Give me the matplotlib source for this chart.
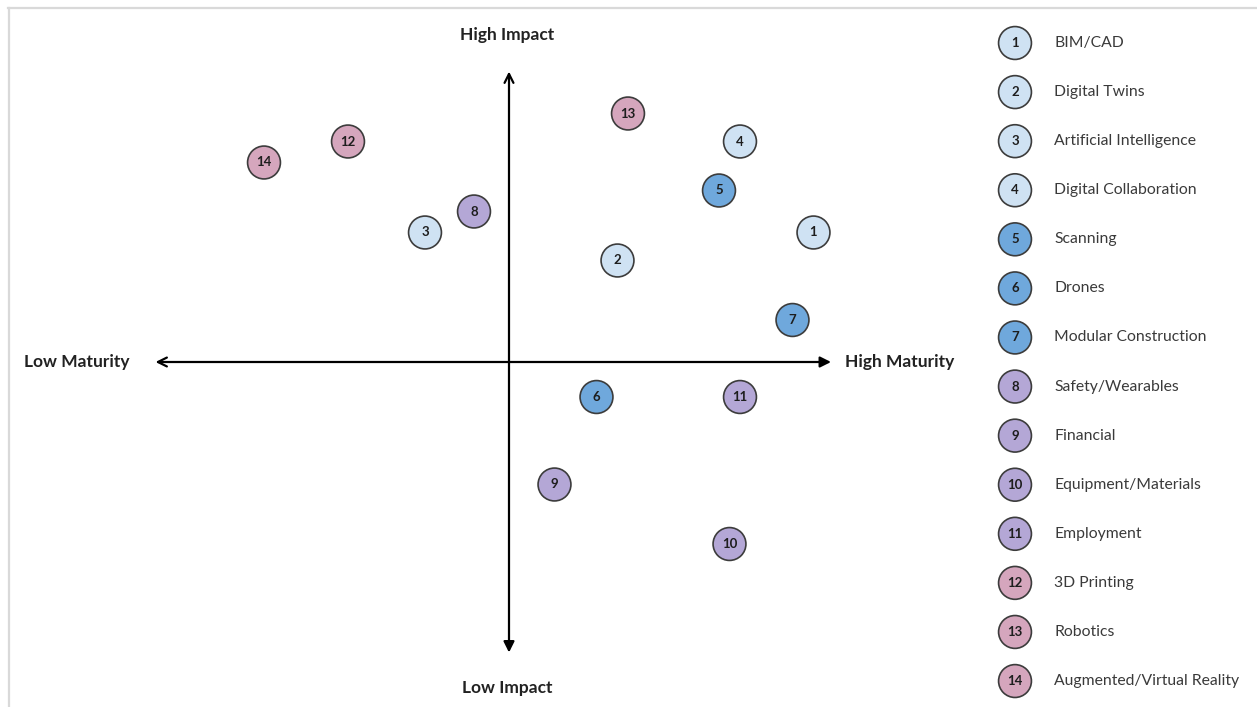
import matplotlib.pyplot as plt
from matplotlib.lines import Line2D

plt.rcParams['font.family'] = ['Lato', 'DejaVu Sans']

# technologies, numbered as in the key
labels = ['BIM/CAD', 'Digital Twins', 'Artificial Intelligence', 'Digital Collaboration',
          'Scanning', 'Drones', 'Modular Construction', 'Safety/Wearables', 'Financial',
          'Equipment/Materials', 'Employment', '3D Printing', 'Robotics',
          'Augmented/Virtual Reality']
numbers = list(range(1, 15))

# maturity (x) and impact (y) scores, 0 is the centre of the matrix
maturity = [8.7, 3.1, -2.4, 6.6, 6.0, 2.5, 8.1, -1.0, 1.3, 6.3, 6.6, -4.6, 3.4, -7.0]
impact = [3.7, 2.9, 3.7, 6.3, 4.9, -1.0, 1.2, 4.3, -3.5, -5.2, -1.0, 6.3, 7.1, 5.7]

# group of each technology
groups = ['light', 'light', 'light', 'light', 'blue', 'blue', 'blue',
          'purple', 'purple', 'purple', 'purple', 'pink', 'pink', 'pink']
group_colors = {'light': '#cfe2f3', 'blue': '#6fa8dc', 'purple': '#b4a7d6', 'pink': '#d5a6bd'}
colors = [group_colors[g] for g in groups]

x_low, x_high = -10.1, 9.2
y_low, y_high = -8.3, 8.3

W, H = 1257, 707
fig = plt.figure(figsize=(W / 100, H / 100), dpi=100)

# main matrix, origin placed at (509, 362) px, 35 px per unit
ax = fig.add_axes([0, 0, 1, 1])
ax.set_xlim(-509 / 35, (W - 509) / 35)
ax.set_ylim((362 - H) / 35, 362 / 35)
ax.axis('off')

arrow_kw = dict(lw=1.6, color='black', shrinkA=0, shrinkB=0, mutation_scale=16)
ax.annotate('', xy=(x_low, 0), xytext=(0, 0), arrowprops=dict(arrowstyle='->', **arrow_kw))
ax.annotate('', xy=(x_high, 0), xytext=(0, 0), arrowprops=dict(arrowstyle='-|>', **arrow_kw))
ax.annotate('', xy=(0, y_high), xytext=(0, 0), arrowprops=dict(arrowstyle='->', **arrow_kw))
ax.annotate('', xy=(0, y_low), xytext=(0, 0), arrowprops=dict(arrowstyle='-|>', **arrow_kw))

axis_font = dict(fontsize=12.5, fontweight='bold', color='#222222')
ax.text(-0.05, y_high + 1.05, 'High Impact', ha='center', va='center', **axis_font)
ax.text(-0.05, y_low - 1.0, 'Low Impact', ha='center', va='center', **axis_font)
ax.text(x_low - 0.75, 0, 'Low Maturity', ha='right', va='center', **axis_font)
ax.text(x_high + 0.4, 0, 'High Maturity', ha='left', va='center', **axis_font)

ax.scatter(maturity, impact, s=560, c=colors, edgecolors='#3c3c3c', linewidths=1.2, zorder=3)
for n, x, y in zip(numbers, maturity, impact):
    ax.text(x, y, str(n), ha='center', va='center', fontsize=9.5,
            fontweight='bold', color='#1e1e1e', zorder=4)

# key on the right
leg = fig.add_axes([980 / W, 0, 277 / W, 1])
leg.set_xlim(0, 277)
leg.set_ylim((H - 43) / 49.08, -43 / 49.08)
leg.axis('off')
rows = list(range(len(labels)))
leg.scatter([35] * len(rows), rows, s=560, c=colors, edgecolors='#3c3c3c', linewidths=1.2)
for r, n, lab in zip(rows, numbers, labels):
    leg.text(35, r, str(n), ha='center', va='center', fontsize=9.5,
             fontweight='bold', color='#1e1e1e')
    leg.text(74, r, lab, ha='left', va='center', fontsize=11.3, color='#3a3a3a')

# thin grey frame along the top and left edges
fig.add_artist(Line2D([8 / W, 1], [1 - 8 / H, 1 - 8 / H], color='#d9d9d9', lw=1.6,
                      transform=fig.transFigure))
fig.add_artist(Line2D([8.5 / W, 8.5 / W], [0, 1 - 8 / H], color='#d9d9d9', lw=1.6,
                      transform=fig.transFigure))

fig.savefig('out.png', dpi=100)
